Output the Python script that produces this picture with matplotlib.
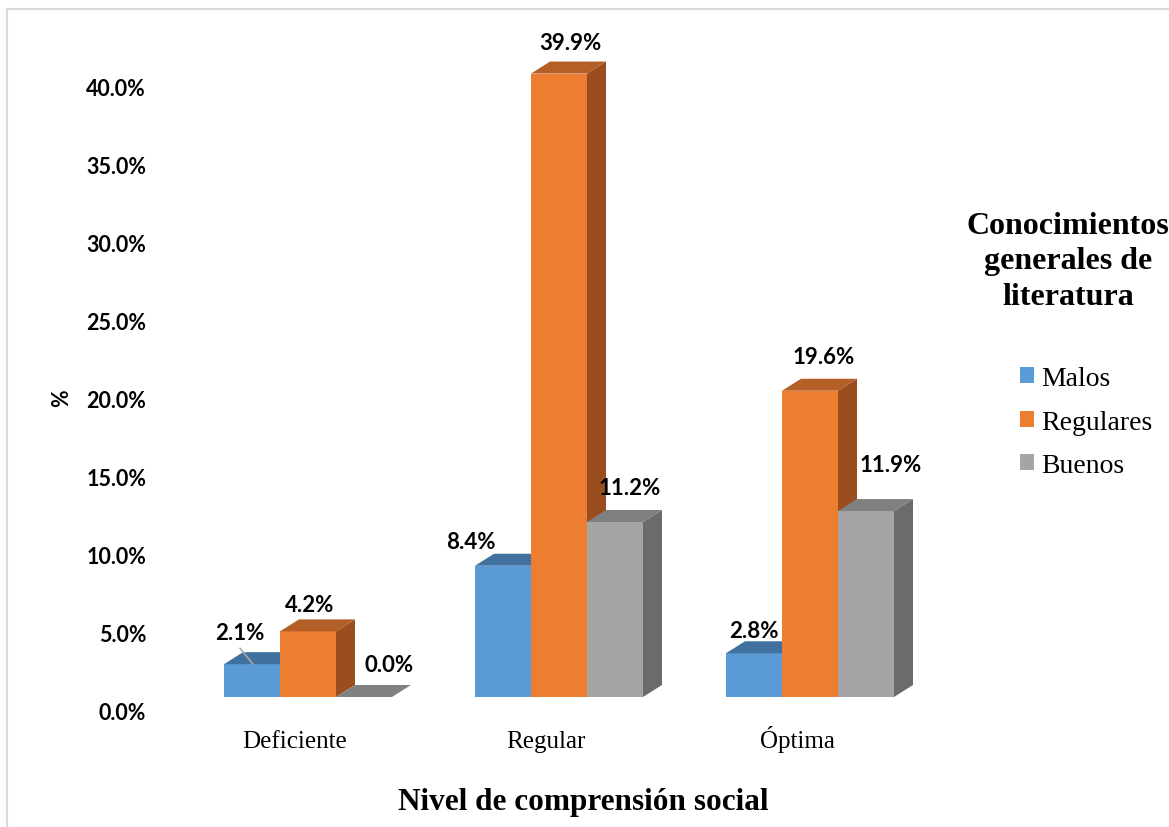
import numpy as np
import matplotlib.pyplot as plt
from matplotlib.patches import Polygon, Rectangle, Patch

categories = ['Deficiente', 'Regular', 'Óptima']
series = ['Malos', 'Regulares', 'Buenos']
malos = [2.1, 8.4, 2.8]
regulares = [4.2, 39.9, 19.6]
buenos = [0.0, 11.2, 11.9]
values = [malos, regulares, buenos]

front_cols = ['#5B9BD5', '#ED7D31', '#A5A5A5']
top_cols = ['#41729F', '#B45E28', '#808080']
side_cols = ['#3A6690', '#9A4E1F', '#6B6B6B']

# label nudges (pixels) to mimic the original placement, per category then series
nudges = [[(-22, 0), (-8, -5), (16, 0)],
          [(-42, -8), (2, -1), (5, 2)],
          [(-10, -9), (4, 2), (15, 15)]]

fig = plt.figure(figsize=(11.69, 8.28), dpi=100)
fig.patches.append(Rectangle((7 / 1169, -0.1), 1.2, 1 - 10 / 828 + 0.1,
                             transform=fig.transFigure, fill=False,
                             edgecolor='#D9D9D9', linewidth=1.5))

ax = fig.add_axes([160 / 1169, (828 - 712) / 828, 800 / 1169, 44 * 15.625 / 828])
ax.set_xlim(-0.5896, 2.5976)
ax.set_ylim(0, 44)

w = 56 / 251
dx = 19 / 251
dz = 12 / 15.625
base = 14 / 15.625
x = np.arange(len(categories))

for s in range(3):
    xs = x + (s - 1) * w
    ax.bar(xs, values[s], width=w, bottom=base, color=front_cols[s], linewidth=0, zorder=3)
    for i in range(len(categories)):
        x0 = xs[i] - w / 2
        x1 = xs[i] + w / 2
        top = base + values[s][i]
        ax.add_patch(Polygon([(x0, top), (x1, top), (x1 + dx, top + dz), (x0 + dx, top + dz)],
                             closed=True, facecolor=top_cols[s], linewidth=0, zorder=3))
        if values[s][i] > 0:
            ax.add_patch(Polygon([(x1, base), (x1 + dx, base + dz), (x1 + dx, top + dz), (x1, top)],
                                 closed=True, facecolor=side_cols[s], linewidth=0, zorder=2))
        nx, ny = nudges[i][s]
        ax.annotate(f'{values[s][i]:.1f}%', (xs[i] + dx / 2, top + dz),
                    xytext=(nx, 20 + ny), textcoords='offset pixels',
                    ha='center', va='center', fontsize=16, fontweight='bold',
                    fontfamily='Lato', color='black', zorder=5, annotation_clip=False)

# leader line for the 2.1% label
ax.annotate('', (x[0] - w + 0.004, base + malos[0]),
            xytext=(-13, 16), textcoords='offset pixels',
            arrowprops=dict(arrowstyle='-', color='#A6A6A6', lw=1.2, shrinkA=0, shrinkB=0))

ax.set_yticks(np.arange(0, 41, 5))
ax.set_yticklabels([f'{v:.1f}%' for v in np.arange(0, 41, 5)],
                   fontsize=15.5, fontweight='bold', fontfamily='Lato')
ax.set_xticks(x - 13 / 251)
ax.set_xticklabels(categories, fontsize=18, fontfamily='Liberation Serif')
for lab in ax.get_xticklabels():
    lab.set_va('baseline')
ax.tick_params(axis='y', length=0, pad=10)
ax.tick_params(axis='x', length=0, pad=26)
for sp in ax.spines.values():
    sp.set_visible(False)
ax.set_ylabel('%', fontsize=15.5, fontweight='bold', fontfamily='Lato', va='center')
ax.yaxis.set_label_coords(-98 / 800, (712 - 398) / 687.5)
ax.set_xlabel('Nivel de comprensión social', fontsize=22.5, fontweight='bold',
              fontfamily='Liberation Serif', va='center')
ax.xaxis.set_label_coords((583 - 160) / 800, -(803 - 712) / 687.5)

fig.text(1068 / 1169, 1 - 262 / 828, 'Conocimientos\ngenerales de\nliteratura',
         ha='center', va='center', multialignment='center', linespacing=1.31,
         fontsize=23, fontweight='bold', fontfamily='Liberation Serif')

handles = [Patch(facecolor=c, edgecolor='none') for c in front_cols]
fig.legend(handles, series, loc='center left', bbox_to_anchor=(1020 / 1169, 1 - 423 / 828),
           frameon=False, prop={'family': 'Liberation Serif', 'size': 20},
           handlelength=0.5, handleheight=0.5, handletextpad=0.25, labelspacing=0.67,
           borderpad=0, borderaxespad=0)

fig.savefig('out.png', dpi=100)
